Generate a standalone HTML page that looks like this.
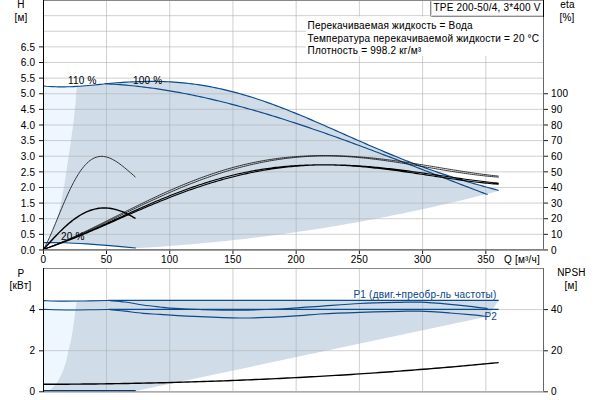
<!DOCTYPE html>
<html><head><meta charset="utf-8"><style>
html,body{margin:0;padding:0;background:#fff;width:600px;height:400px;overflow:hidden}
svg{display:block}
</style></head><body>
<svg width="600" height="400" viewBox="0 0 600 400"><rect width="600" height="400" fill="#fff"/><path d="M43.50,85.95 L46.50,86.24 L49.50,86.46 L52.50,86.64 L55.50,86.76 L58.50,86.83 L61.50,86.86 L64.50,86.85 L67.50,86.79 L70.50,86.70 L73.50,86.57 L76.50,86.41 L76.80,86.30 C76.62,88.58 76.21,94.38 75.70,100.00 C75.19,105.62 74.53,113.33 73.75,120.00 C72.97,126.67 71.83,134.17 71.00,140.00 C70.17,145.83 69.55,150.00 68.80,155.00 C68.05,160.00 67.25,165.00 66.50,170.00 C65.75,175.00 64.98,180.83 64.30,185.00 C63.62,189.17 63.03,191.67 62.40,195.00 C61.77,198.33 61.23,201.67 60.50,205.00 C59.77,208.33 58.92,211.67 58.00,215.00 C57.08,218.33 56.13,221.67 55.00,225.00 C53.87,228.33 52.32,232.07 51.20,235.00 C50.08,237.93 48.78,241.33 48.30,242.60 L43.5,249.5 Z" fill="#eef6ff"/><path d="M76.80,86.30 L79.50,86.23 L82.50,86.01 L85.50,85.77 L88.50,85.52 L91.50,85.24 L94.50,84.95 L97.50,84.65 L100.50,84.33 L103.50,84.01 L105.00,83.70 L108.00,83.46 L111.00,83.22 L114.00,82.99 L117.00,82.77 L120.00,82.56 L123.00,82.37 L126.00,82.19 L129.00,82.02 L132.00,81.87 L135.00,81.74 L138.00,81.63 L141.00,81.53 L144.00,81.46 L147.00,81.42 L150.00,81.39 L153.00,81.39 L156.00,81.42 L159.00,81.47 L162.00,81.54 L165.00,81.65 L168.00,81.78 L171.00,81.94 L174.00,82.12 L177.00,82.34 L180.00,82.58 L183.00,82.86 L186.00,83.16 L189.00,83.50 L192.00,83.86 L195.00,84.26 L198.00,84.68 L201.00,85.14 L204.00,85.62 L207.00,86.14 L210.00,86.68 L213.00,87.26 L216.00,87.86 L219.00,88.50 L222.00,89.16 L225.00,89.85 L228.00,90.57 L231.00,91.32 L234.00,92.10 L237.00,92.90 L240.00,93.74 L243.00,94.59 L246.00,95.48 L249.00,96.39 L252.00,97.32 L255.00,98.28 L258.00,99.26 L261.00,100.26 L264.00,101.29 L267.00,102.34 L270.00,103.41 L273.00,104.50 L276.00,105.61 L279.00,106.73 L282.00,107.88 L285.00,109.04 L288.00,110.22 L291.00,111.41 L294.00,112.62 L297.00,113.85 L300.00,115.08 L303.00,116.33 L306.00,117.59 L309.00,118.86 L312.00,120.14 L315.00,121.43 L318.00,122.73 L321.00,124.03 L324.00,125.34 L327.00,126.66 L330.00,127.98 L333.00,129.30 L336.00,130.63 L339.00,131.96 L342.00,133.29 L345.00,134.62 L348.00,135.95 L351.00,137.28 L354.00,138.61 L357.00,139.93 L360.00,141.25 L363.00,142.57 L366.00,143.88 L369.00,145.19 L372.00,146.49 L375.00,147.78 L378.00,149.06 L381.00,150.34 L384.00,151.61 L387.00,152.86 L390.00,154.11 L393.00,155.35 L396.00,156.57 L399.00,157.79 L402.00,158.99 L405.00,160.18 L408.00,161.36 L411.00,162.52 L414.00,163.67 L417.00,164.80 L420.00,165.92 L423.00,167.03 L426.00,168.12 L429.00,169.20 L432.00,170.26 L435.00,171.31 L438.00,172.34 L441.00,173.36 L444.00,174.36 L447.00,175.35 L450.00,176.32 L453.00,177.28 L456.00,178.23 L459.00,179.16 L462.00,180.08 L465.00,180.98 L468.00,181.87 L471.00,182.75 L474.00,183.62 L477.00,184.48 L480.00,185.32 L483.00,186.16 L486.00,186.99 L489.00,187.81 L492.00,188.63 L495.00,189.43 L498.00,190.24 L498.70,190.42 L498.70,190.40 L495.80,191.72 L491.80,192.75 L487.80,193.78 L483.80,194.79 L479.80,195.80 L475.80,196.79 L471.80,197.78 L467.80,198.76 L463.80,199.73 L459.80,200.69 L455.80,201.64 L451.80,202.58 L447.80,203.51 L443.80,204.44 L439.80,205.35 L435.80,206.25 L431.80,207.15 L427.80,208.04 L423.80,208.91 L419.80,209.78 L415.80,210.64 L411.80,211.49 L407.80,212.33 L403.80,213.17 L399.80,213.99 L395.80,214.80 L391.80,215.61 L387.80,216.40 L383.80,217.19 L379.80,217.96 L375.80,218.73 L371.80,219.49 L367.80,220.24 L363.80,220.98 L359.80,221.71 L355.80,222.44 L351.80,223.15 L347.80,223.85 L343.80,224.55 L339.80,225.23 L335.80,225.91 L331.80,226.58 L327.80,227.24 L323.80,227.89 L319.80,228.53 L315.80,229.16 L311.80,229.78 L307.80,230.39 L303.80,231.00 L299.80,231.59 L295.80,232.18 L291.80,232.75 L287.80,233.32 L283.80,233.88 L279.80,234.43 L275.80,234.97 L271.80,235.50 L267.80,236.02 L263.80,236.53 L259.80,237.04 L255.80,237.53 L251.80,238.01 L247.80,238.49 L243.80,238.96 L239.80,239.42 L235.80,239.86 L231.80,240.30 L227.80,240.73 L223.80,241.15 L219.80,241.57 L215.80,241.97 L211.80,242.36 L207.80,242.75 L203.80,243.12 L199.80,243.49 L195.80,243.85 L191.80,244.20 L187.80,244.53 L183.80,244.86 L179.80,245.19 L175.80,245.50 L171.80,245.80 L167.80,246.09 L163.80,246.38 L159.80,246.65 L155.80,246.92 L151.80,247.18 L147.80,247.42 L143.80,247.66 L139.80,247.89 L135.80,248.00 C131.50,247.60 117.63,246.25 110.00,245.60 C102.37,244.95 97.50,244.58 90.00,244.10 C82.50,243.62 71.95,242.95 65.00,242.70 C58.05,242.45 51.08,242.62 48.30,242.60 C48.78,241.33 50.08,237.93 51.20,235.00 C52.32,232.07 53.87,228.33 55.00,225.00 C56.13,221.67 57.08,218.33 58.00,215.00 C58.92,211.67 59.77,208.33 60.50,205.00 C61.23,201.67 61.77,198.33 62.40,195.00 C63.03,191.67 63.62,189.17 64.30,185.00 C64.98,180.83 65.75,175.00 66.50,170.00 C67.25,165.00 68.05,160.00 68.80,155.00 C69.55,150.00 70.17,145.83 71.00,140.00 C71.83,134.17 72.97,126.67 73.75,120.00 C74.53,113.33 75.19,105.62 75.70,100.00 C76.21,94.38 76.62,88.58 76.80,86.30 Z" fill="#d0dce8"/><path d="M43.5,300.6 C46.25,300.68 54.47,301.07 60.00,301.10 C65.53,301.13 73.92,300.85 76.70,300.80 C76.48,302.33 75.83,306.80 75.40,310.00 C74.97,313.20 74.56,316.67 74.10,320.00 C73.64,323.33 73.17,326.67 72.65,330.00 C72.13,333.33 71.69,336.67 71.00,340.00 C70.31,343.33 69.27,346.67 68.50,350.00 C67.73,353.33 67.28,356.67 66.40,360.00 C65.52,363.33 64.52,366.67 63.20,370.00 C61.88,373.33 59.75,377.67 58.50,380.00 C57.25,382.33 57.12,382.33 55.70,384.00 C54.28,385.67 51.62,388.75 50.00,390.00 C48.38,391.25 46.67,391.25 46.00,391.50 L43.5,391.5 Z" fill="#eef6ff"/><path d="M76.7,300.8 L498.7,300.4 L487.6,316.6 L135.80,391.07 L46,391.5 C46.67,391.25 48.38,391.25 50.00,390.00 C51.62,388.75 54.28,385.67 55.70,384.00 C57.12,382.33 57.25,382.33 58.50,380.00 C59.75,377.67 61.88,373.33 63.20,370.00 C64.52,366.67 65.52,363.33 66.40,360.00 C67.28,356.67 67.73,353.33 68.50,350.00 C69.27,346.67 70.31,343.33 71.00,340.00 C71.69,336.67 72.13,333.33 72.65,330.00 C73.17,326.67 73.64,323.33 74.10,320.00 C74.56,316.67 74.97,313.20 75.40,310.00 C75.83,306.80 76.48,302.33 76.70,300.80 Z" fill="#d0dce8"/><path d="M106.51,1V249 M106.51,269V391 M169.73,1V249 M169.73,269V391 M232.94,1V249 M232.94,269V391 M296.16,1V249 M296.16,269V391 M359.38,1V249 M359.38,269V391 M422.59,1V249 M422.59,269V391 M485.81,1V249 M485.81,269V391 M44,234.33H543 M44,218.71H543 M44,203.09H543 M44,187.47H543 M44,171.85H543 M44,156.23H543 M44,140.61H543 M44,124.99H543 M44,109.37H543 M44,93.75H543 M44,78.13H543 M44,62.51H543 M44,46.89H543 M44,31.27H543 M44,15.65H543 M44,350.7H543 M44,309.6H543" stroke="#b0b0b0" stroke-opacity="0.6" stroke-width="1" fill="none"/><rect x="306" y="16.5" width="237" height="39.5" fill="#fff"/><path d="M43.50,85.95 L46.50,86.24 L49.50,86.46 L52.50,86.64 L55.50,86.76 L58.50,86.83 L61.50,86.86 L64.50,86.85 L67.50,86.79 L70.50,86.70 L73.50,86.57 L76.50,86.41 L79.50,86.23 L82.50,86.01 L85.50,85.77 L88.50,85.52 L91.50,85.24 L94.50,84.95 L97.50,84.65 L100.50,84.33 L103.50,84.01 L105.00,83.70 L108.00,83.46 L111.00,83.22 L114.00,82.99 L117.00,82.77 L120.00,82.56 L123.00,82.37 L126.00,82.19 L129.00,82.02 L132.00,81.87 L135.00,81.74 L138.00,81.63 L141.00,81.53 L144.00,81.46 L147.00,81.42 L150.00,81.39 L153.00,81.39 L156.00,81.42 L159.00,81.47 L162.00,81.54 L165.00,81.65 L168.00,81.78 L171.00,81.94 L174.00,82.12 L177.00,82.34 L180.00,82.58 L183.00,82.86 L186.00,83.16 L189.00,83.50 L192.00,83.86 L195.00,84.26 L198.00,84.68 L201.00,85.14 L204.00,85.62 L207.00,86.14 L210.00,86.68 L213.00,87.26 L216.00,87.86 L219.00,88.50 L222.00,89.16 L225.00,89.85 L228.00,90.57 L231.00,91.32 L234.00,92.10 L237.00,92.90 L240.00,93.74 L243.00,94.59 L246.00,95.48 L249.00,96.39 L252.00,97.32 L255.00,98.28 L258.00,99.26 L261.00,100.26 L264.00,101.29 L267.00,102.34 L270.00,103.41 L273.00,104.50 L276.00,105.61 L279.00,106.73 L282.00,107.88 L285.00,109.04 L288.00,110.22 L291.00,111.41 L294.00,112.62 L297.00,113.85 L300.00,115.08 L303.00,116.33 L306.00,117.59 L309.00,118.86 L312.00,120.14 L315.00,121.43 L318.00,122.73 L321.00,124.03 L324.00,125.34 L327.00,126.66 L330.00,127.98 L333.00,129.30 L336.00,130.63 L339.00,131.96 L342.00,133.29 L345.00,134.62 L348.00,135.95 L351.00,137.28 L354.00,138.61 L357.00,139.93 L360.00,141.25 L363.00,142.57 L366.00,143.88 L369.00,145.19 L372.00,146.49 L375.00,147.78 L378.00,149.06 L381.00,150.34 L384.00,151.61 L387.00,152.86 L390.00,154.11 L393.00,155.35 L396.00,156.57 L399.00,157.79 L402.00,158.99 L405.00,160.18 L408.00,161.36 L411.00,162.52 L414.00,163.67 L417.00,164.80 L420.00,165.92 L423.00,167.03 L426.00,168.12 L429.00,169.20 L432.00,170.26 L435.00,171.31 L438.00,172.34 L441.00,173.36 L444.00,174.36 L447.00,175.35 L450.00,176.32 L453.00,177.28 L456.00,178.23 L459.00,179.16 L462.00,180.08 L465.00,180.98 L468.00,181.87 L471.00,182.75 L474.00,183.62 L477.00,184.48 L480.00,185.32 L483.00,186.16 L486.00,186.99 L489.00,187.81 L492.00,188.63 L495.00,189.43 L498.00,190.24 L498.70,190.42" stroke="#0d4a8a" stroke-width="1.15" fill="none"/><path d="M105.00,83.74 L108.00,83.89 L111.00,84.06 L114.00,84.24 L117.00,84.45 L120.00,84.67 L123.00,84.91 L126.00,85.17 L129.00,85.45 L132.00,85.74 L135.00,86.05 L138.00,86.38 L141.00,86.72 L144.00,87.08 L147.00,87.46 L150.00,87.86 L153.00,88.27 L156.00,88.69 L159.00,89.14 L162.00,89.60 L165.00,90.07 L168.00,90.56 L171.00,91.06 L174.00,91.58 L177.00,92.12 L180.00,92.66 L183.00,93.23 L186.00,93.81 L189.00,94.40 L192.00,95.00 L195.00,95.62 L198.00,96.25 L201.00,96.90 L204.00,97.56 L207.00,98.23 L210.00,98.92 L213.00,99.62 L216.00,100.33 L219.00,101.05 L222.00,101.79 L225.00,102.53 L228.00,103.29 L231.00,104.07 L234.00,104.85 L237.00,105.64 L240.00,106.45 L243.00,107.26 L246.00,108.09 L249.00,108.93 L252.00,109.78 L255.00,110.64 L258.00,111.50 L261.00,112.38 L264.00,113.27 L267.00,114.17 L270.00,115.08 L273.00,115.99 L276.00,116.92 L279.00,117.85 L282.00,118.80 L285.00,119.75 L288.00,120.71 L291.00,121.68 L294.00,122.65 L297.00,123.64 L300.00,124.63 L303.00,125.63 L306.00,126.64 L309.00,127.65 L312.00,128.67 L315.00,129.70 L318.00,130.74 L321.00,131.78 L324.00,132.83 L327.00,133.88 L330.00,134.94 L333.00,136.01 L336.00,137.08 L339.00,138.15 L342.00,139.24 L345.00,140.32 L348.00,141.41 L351.00,142.51 L354.00,143.61 L357.00,144.72 L360.00,145.83 L363.00,146.94 L366.00,148.06 L369.00,149.18 L372.00,150.31 L375.00,151.43 L378.00,152.57 L381.00,153.70 L384.00,154.84 L387.00,155.98 L390.00,157.12 L393.00,158.27 L396.00,159.41 L399.00,160.56 L402.00,161.71 L405.00,162.87 L408.00,164.02 L411.00,165.18 L414.00,166.33 L417.00,167.49 L420.00,168.65 L423.00,169.81 L426.00,170.97 L429.00,172.13 L432.00,173.28 L435.00,174.44 L438.00,175.60 L441.00,176.76 L444.00,177.92 L447.00,179.08 L450.00,180.23 L453.00,181.39 L456.00,182.54 L459.00,183.69 L462.00,184.84 L465.00,185.99 L468.00,187.14 L471.00,188.28 L474.00,189.43 L477.00,190.57 L480.00,191.70 L483.00,192.84 L486.00,193.97 L487.60,194.57" stroke="#0d4a8a" stroke-width="1.15" fill="none"/><path d="M43.50,242.60 C47.08,242.62 57.25,242.45 65.00,242.70 C72.75,242.95 82.50,243.62 90.00,244.10 C97.50,244.58 102.37,244.95 110.00,245.60 C117.63,246.25 131.50,247.60 135.80,248.00" stroke="#0d4a8a" stroke-width="1.15" fill="none"/><path d="M43.50,249.50 L45.00,246.77 L46.50,243.83 L48.00,240.71 L49.50,237.43 L51.00,234.03 L52.50,230.52 L54.00,226.95 L55.50,223.32 L57.00,219.66 L58.50,216.00 L60.00,212.35 L61.50,208.73 L63.00,205.15 L64.50,201.64 L66.00,198.20 L67.50,194.84 L69.00,191.59 L70.50,188.45 L72.00,185.43 L73.50,182.53 L75.00,179.77 L76.50,177.16 L78.00,174.69 L79.50,172.37 L81.00,170.20 L82.50,168.19 L84.00,166.35 L85.50,164.66 L87.00,163.13 L88.50,161.77 L90.00,160.56 L91.50,159.52 L93.00,158.63 L94.50,157.89 L96.00,157.30 L97.50,156.86 L99.00,156.56 L100.50,156.39 L102.00,156.36 L103.50,156.46 L105.00,156.68 L106.50,157.01 L108.00,157.45 L109.50,158.00 L111.00,158.64 L112.50,159.37 L114.00,160.18 L115.50,161.07 L117.00,162.03 L118.50,163.06 L120.00,164.14 L121.50,165.27 L123.00,166.44 L124.50,167.65 L126.00,168.89 L127.50,170.16 L129.00,171.44 L130.50,172.74 L132.00,174.05 L133.50,175.37 L135.00,176.68 L135.50,177.12" stroke="#222" stroke-width="0.9" fill="none"/><path d="M43.50,249.52 L45.00,247.81 L46.50,246.11 L48.00,244.42 L49.50,242.75 L51.00,241.09 L52.50,239.45 L54.00,237.83 L55.50,236.24 L57.00,234.67 L58.50,233.13 L60.00,231.62 L61.50,230.15 L63.00,228.70 L64.50,227.30 L66.00,225.94 L67.50,224.61 L69.00,223.33 L70.50,222.09 L72.00,220.90 L73.50,219.75 L75.00,218.65 L76.50,217.60 L78.00,216.60 L79.50,215.65 L81.00,214.76 L82.50,213.92 L84.00,213.13 L85.50,212.39 L87.00,211.71 L88.50,211.09 L90.00,210.52 L91.50,210.01 L93.00,209.56 L94.50,209.16 L96.00,208.82 L97.50,208.54 L99.00,208.31 L100.50,208.14 L102.00,208.03 L103.50,207.97 L105.00,207.97 L106.50,208.03 L108.00,208.14 L109.50,208.30 L111.00,208.51 L112.50,208.78 L114.00,209.10 L115.50,209.47 L117.00,209.89 L118.50,210.35 L120.00,210.87 L121.50,211.42 L123.00,212.02 L124.50,212.67 L126.00,213.35 L127.50,214.07 L129.00,214.83 L130.50,215.62 L132.00,216.44 L133.50,217.30 L135.00,218.18 L135.50,218.48" stroke="#000" stroke-width="1.4" fill="none"/><path d="M43.50,249.31 L45.50,248.59 L47.50,247.85 L49.50,247.09 L51.50,246.32 L53.50,245.53 L55.50,244.73 L57.50,243.92 L59.50,243.09 L61.50,242.25 L63.50,241.40 L65.50,240.53 L67.50,239.66 L69.50,238.77 L71.50,237.87 L73.50,236.97 L75.50,236.05 L77.50,235.13 L79.50,234.20 L81.50,233.26 L83.50,232.31 L85.50,231.36 L87.50,230.40 L89.50,229.43 L91.50,228.46 L93.50,227.49 L95.50,226.51 L97.50,225.53 L99.50,224.54 L101.50,223.55 L103.50,222.56 L105.50,221.56 L107.50,220.56 L109.50,219.56 L111.50,218.56 L113.50,217.56 L115.50,216.56 L117.50,215.56 L119.50,214.56 L121.50,213.56 L123.50,212.56 L125.50,211.56 L127.50,210.57 L129.50,209.57 L131.50,208.58 L133.50,207.59 L135.50,206.61 L137.50,205.63 L139.50,204.65 L141.50,203.67 L143.50,202.70 L145.50,201.74 L147.50,200.78 L149.50,199.82 L151.50,198.87 L153.50,197.93 L155.50,196.99 L157.50,196.06 L159.50,195.13 L161.50,194.21 L163.50,193.30 L165.50,192.40 L167.50,191.50 L169.50,190.61 L171.50,189.73 L173.50,188.86 L175.50,187.99 L177.50,187.13 L179.50,186.29 L181.50,185.45 L183.50,184.62 L185.50,183.80 L187.50,182.99 L189.50,182.19 L191.50,181.40 L193.50,180.62 L195.50,179.85 L197.50,179.09 L199.50,178.34 L201.50,177.60 L203.50,176.87 L205.50,176.16 L207.50,175.45 L209.50,174.76 L211.50,174.07 L213.50,173.40 L215.50,172.74 L217.50,172.09 L219.50,171.46 L221.50,170.83 L223.50,170.22 L225.50,169.62 L227.50,169.03 L229.50,168.46 L231.50,167.90 L233.50,167.34 L235.50,166.81 L237.50,166.28 L239.50,165.77 L241.50,165.27 L243.50,164.78 L245.50,164.30 L247.50,163.84 L249.50,163.39 L251.50,162.96 L253.50,162.53 L255.50,162.12 L257.50,161.73 L259.50,161.34 L261.50,160.97 L263.50,160.61 L265.50,160.27 L267.50,159.93 L269.50,159.61 L271.50,159.31 L273.50,159.01 L275.50,158.73 L277.50,158.47 L279.50,158.21 L281.50,157.97 L283.50,157.74 L285.50,157.52 L287.50,157.32 L289.50,157.13 L291.50,156.95 L293.50,156.78 L295.50,156.63 L297.50,156.49 L299.50,156.36 L301.50,156.24 L303.50,156.14 L305.50,156.05 L307.50,155.97 L309.50,155.90 L311.50,155.85 L313.50,155.80 L315.50,155.77 L317.50,155.74 L319.50,155.73 L321.50,155.73 L323.50,155.74 L325.50,155.76 L327.50,155.79 L329.50,155.83 L331.50,155.88 L333.50,155.94 L335.50,156.02 L337.50,156.10 L339.50,156.19 L341.50,156.29 L343.50,156.40 L345.50,156.52 L347.50,156.64 L349.50,156.78 L351.50,156.92 L353.50,157.08 L355.50,157.24 L357.50,157.41 L359.50,157.59 L361.50,157.78 L363.50,157.98 L365.50,158.18 L367.50,158.40 L369.50,158.62 L371.50,158.85 L373.50,159.09 L375.50,159.33 L377.50,159.58 L379.50,159.84 L381.50,160.10 L383.50,160.37 L385.50,160.64 L387.50,160.92 L389.50,161.21 L391.50,161.50 L393.50,161.79 L395.50,162.09 L397.50,162.40 L399.50,162.71 L401.50,163.02 L403.50,163.34 L405.50,163.66 L407.50,163.98 L409.50,164.31 L411.50,164.63 L413.50,164.96 L415.50,165.30 L417.50,165.63 L419.50,165.97 L421.50,166.31 L423.50,166.65 L425.50,166.98 L427.50,167.32 L429.50,167.66 L431.50,168.00 L433.50,168.34 L435.50,168.68 L437.50,169.02 L439.50,169.36 L441.50,169.69 L443.50,170.02 L445.50,170.35 L447.50,170.68 L449.50,171.01 L451.50,171.33 L453.50,171.64 L455.50,171.96 L457.50,172.27 L459.50,172.57 L461.50,172.87 L463.50,173.17 L465.50,173.46 L467.50,173.74 L469.50,174.02 L471.50,174.29 L473.50,174.56 L475.50,174.81 L477.50,175.06 L479.50,175.30 L481.50,175.53 L483.50,175.76 L485.50,175.97 L487.50,176.18 L489.50,176.38 L491.50,176.56 L493.50,176.74 L495.50,176.90 L497.50,177.05 L498.70,177.14 M43.50,249.31 L45.50,248.61 L47.50,247.90 L49.50,247.17 L51.50,246.43 L53.50,245.67 L55.50,244.90 L57.50,244.11 L59.50,243.32 L61.50,242.51 L63.50,241.69 L65.50,240.86 L67.50,240.02 L69.50,239.17 L71.50,238.31 L73.50,237.44 L75.50,236.56 L77.50,235.67 L79.50,234.77 L81.50,233.87 L83.50,232.96 L85.50,232.05 L87.50,231.13 L89.50,230.20 L91.50,229.27 L93.50,228.33 L95.50,227.39 L97.50,226.44 L99.50,225.49 L101.50,224.54 L103.50,223.58 L105.50,222.62 L107.50,221.66 L109.50,220.70 L111.50,219.73 L113.50,218.77 L115.50,217.80 L117.50,216.84 L119.50,215.87 L121.50,214.90 L123.50,213.94 L125.50,212.97 L127.50,212.01 L129.50,211.04 L131.50,210.08 L133.50,209.13 L135.50,208.17 L137.50,207.22 L139.50,206.27 L141.50,205.32 L143.50,204.37 L145.50,203.43 L147.50,202.50 L149.50,201.57 L151.50,200.64 L153.50,199.72 L155.50,198.80 L157.50,197.89 L159.50,196.98 L161.50,196.08 L163.50,195.19 L165.50,194.30 L167.50,193.42 L169.50,192.55 L171.50,191.68 L173.50,190.82 L175.50,189.97 L177.50,189.12 L179.50,188.28 L181.50,187.45 L183.50,186.63 L185.50,185.82 L187.50,185.01 L189.50,184.22 L191.50,183.43 L193.50,182.65 L195.50,181.88 L197.50,181.12 L199.50,180.37 L201.50,179.63 L203.50,178.90 L205.50,178.18 L207.50,177.47 L209.50,176.77 L211.50,176.08 L213.50,175.40 L215.50,174.73 L217.50,174.07 L219.50,173.42 L221.50,172.78 L223.50,172.16 L225.50,171.54 L227.50,170.94 L229.50,170.34 L231.50,169.76 L233.50,169.19 L235.50,168.63 L237.50,168.08 L239.50,167.55 L241.50,167.02 L243.50,166.51 L245.50,166.01 L247.50,165.52 L249.50,165.04 L251.50,164.58 L253.50,164.12 L255.50,163.68 L257.50,163.25 L259.50,162.84 L261.50,162.43 L263.50,162.04 L265.50,161.66 L267.50,161.29 L269.50,160.93 L271.50,160.58 L273.50,160.25 L275.50,159.93 L277.50,159.62 L279.50,159.33 L281.50,159.04 L283.50,158.77 L285.50,158.51 L287.50,158.26 L289.50,158.02 L291.50,157.80 L293.50,157.59 L295.50,157.39 L297.50,157.20 L299.50,157.02 L301.50,156.85 L303.50,156.69 L305.50,156.55 L307.50,156.42 L309.50,156.30 L311.50,156.19 L313.50,156.09 L315.50,156.01 L317.50,155.93 L319.50,155.87 L321.50,155.82 L323.50,155.78 L325.50,155.75 L327.50,155.74 L329.50,155.73 L331.50,155.74 L333.50,155.75 L335.50,155.78 L337.50,155.82 L339.50,155.87 L341.50,155.92 L343.50,155.99 L345.50,156.07 L347.50,156.16 L349.50,156.26 L351.50,156.37 L353.50,156.49 L355.50,156.62 L357.50,156.75 L359.50,156.90 L361.50,157.05 L363.50,157.21 L365.50,157.38 L367.50,157.56 L369.50,157.74 L371.50,157.93 L373.50,158.13 L375.50,158.34 L377.50,158.56 L379.50,158.78 L381.50,159.01 L383.50,159.24 L385.50,159.48 L387.50,159.73 L389.50,159.98 L391.50,160.24 L393.50,160.51 L395.50,160.78 L397.50,161.05 L399.50,161.33 L401.50,161.62 L403.50,161.91 L405.50,162.20 L407.50,162.50 L409.50,162.80 L411.50,163.11 L413.50,163.42 L415.50,163.73 L417.50,164.04 L419.50,164.36 L421.50,164.68 L423.50,165.01 L425.50,165.33 L427.50,165.66 L429.50,165.98 L431.50,166.31 L433.50,166.64 L435.50,166.97 L437.50,167.31 L439.50,167.64 L441.50,167.97 L443.50,168.30 L445.50,168.63 L447.50,168.96 L449.50,169.29 L451.50,169.61 L453.50,169.94 L455.50,170.26 L457.50,170.58 L459.50,170.90 L461.50,171.21 L463.50,171.52 L465.50,171.83 L467.50,172.13 L469.50,172.43 L471.50,172.73 L473.50,173.02 L475.50,173.30 L477.50,173.58 L479.50,173.86 L481.50,174.12 L483.50,174.39 L485.50,174.64 L487.50,174.89 L489.50,175.13 L491.50,175.36 L493.50,175.59 L495.50,175.80 L497.50,176.01 L498.70,176.13" stroke="#111" stroke-width="0.85" fill="none"/><path d="M43.50,249.29 L45.50,248.63 L47.50,247.96 L49.50,247.27 L51.50,246.56 L53.50,245.84 L55.50,245.11 L57.50,244.36 L59.50,243.61 L61.50,242.84 L63.50,242.06 L65.50,241.26 L67.50,240.46 L69.50,239.65 L71.50,238.83 L73.50,238.00 L75.50,237.17 L77.50,236.32 L79.50,235.47 L81.50,234.61 L83.50,233.75 L85.50,232.88 L87.50,232.00 L89.50,231.12 L91.50,230.23 L93.50,229.34 L95.50,228.45 L97.50,227.55 L99.50,226.65 L101.50,225.74 L103.50,224.84 L105.50,223.93 L107.50,223.02 L109.50,222.11 L111.50,221.20 L113.50,220.29 L115.50,219.37 L117.50,218.46 L119.50,217.55 L121.50,216.64 L123.50,215.73 L125.50,214.82 L127.50,213.92 L129.50,213.02 L131.50,212.12 L133.50,211.22 L135.50,210.32 L137.50,209.43 L139.50,208.54 L141.50,207.66 L143.50,206.78 L145.50,205.91 L147.50,205.04 L149.50,204.17 L151.50,203.31 L153.50,202.46 L155.50,201.61 L157.50,200.77 L159.50,199.93 L161.50,199.10 L163.50,198.28 L165.50,197.46 L167.50,196.65 L169.50,195.85 L171.50,195.06 L173.50,194.27 L175.50,193.49 L177.50,192.72 L179.50,191.96 L181.50,191.20 L183.50,190.46 L185.50,189.72 L187.50,188.99 L189.50,188.28 L191.50,187.57 L193.50,186.87 L195.50,186.18 L197.50,185.50 L199.50,184.82 L201.50,184.16 L203.50,183.51 L205.50,182.87 L207.50,182.24 L209.50,181.62 L211.50,181.01 L213.50,180.41 L215.50,179.82 L217.50,179.25 L219.50,178.68 L221.50,178.12 L223.50,177.58 L225.50,177.04 L227.50,176.52 L229.50,176.01 L231.50,175.51 L233.50,175.02 L235.50,174.54 L237.50,174.08 L239.50,173.62 L241.50,173.18 L243.50,172.75 L245.50,172.33 L247.50,171.92 L249.50,171.52 L251.50,171.14 L253.50,170.76 L255.50,170.40 L257.50,170.05 L259.50,169.71 L261.50,169.39 L263.50,169.07 L265.50,168.77 L267.50,168.48 L269.50,168.20 L271.50,167.93 L273.50,167.67 L275.50,167.42 L277.50,167.19 L279.50,166.97 L281.50,166.76 L283.50,166.56 L285.50,166.37 L287.50,166.19 L289.50,166.03 L291.50,165.87 L293.50,165.73 L295.50,165.60 L297.50,165.48 L299.50,165.36 L301.50,165.27 L303.50,165.18 L305.50,165.10 L307.50,165.04 L309.50,164.98 L311.50,164.93 L313.50,164.90 L315.50,164.87 L317.50,164.85 L319.50,164.84 L321.50,164.85 L323.50,164.86 L325.50,164.88 L327.50,164.91 L329.50,164.95 L331.50,165.00 L333.50,165.05 L335.50,165.12 L337.50,165.19 L339.50,165.28 L341.50,165.37 L343.50,165.47 L345.50,165.57 L347.50,165.69 L349.50,165.81 L351.50,165.94 L353.50,166.08 L355.50,166.22 L357.50,166.37 L359.50,166.53 L361.50,166.70 L363.50,166.88 L365.50,167.06 L367.50,167.25 L369.50,167.45 L371.50,167.66 L373.50,167.87 L375.50,168.08 L377.50,168.30 L379.50,168.53 L381.50,168.76 L383.50,169.00 L385.50,169.24 L387.50,169.49 L389.50,169.74 L391.50,170.00 L393.50,170.26 L395.50,170.53 L397.50,170.80 L399.50,171.07 L401.50,171.35 L403.50,171.63 L405.50,171.91 L407.50,172.20 L409.50,172.49 L411.50,172.78 L413.50,173.07 L415.50,173.37 L417.50,173.66 L419.50,173.96 L421.50,174.26 L423.50,174.56 L425.50,174.86 L427.50,175.17 L429.50,175.47 L431.50,175.77 L433.50,176.07 L435.50,176.38 L437.50,176.68 L439.50,176.98 L441.50,177.28 L443.50,177.58 L445.50,177.87 L447.50,178.17 L449.50,178.46 L451.50,178.75 L453.50,179.04 L455.50,179.33 L457.50,179.61 L459.50,179.89 L461.50,180.16 L463.50,180.44 L465.50,180.70 L467.50,180.97 L469.50,181.22 L471.50,181.48 L473.50,181.73 L475.50,181.97 L477.50,182.21 L479.50,182.44 L481.50,182.66 L483.50,182.88 L485.50,183.09 L487.50,183.30 L489.50,183.49 L491.50,183.68 L493.50,183.86 L495.50,184.04 L497.50,184.20 L498.70,184.30 M43.50,249.29 L45.50,248.66 L47.50,248.00 L49.50,247.34 L51.50,246.66 L53.50,245.97 L55.50,245.26 L57.50,244.54 L59.50,243.81 L61.50,243.08 L63.50,242.33 L65.50,241.57 L67.50,240.80 L69.50,240.02 L71.50,239.23 L73.50,238.43 L75.50,237.63 L77.50,236.82 L79.50,236.00 L81.50,235.17 L83.50,234.34 L85.50,233.51 L87.50,232.66 L89.50,231.82 L91.50,230.96 L93.50,230.11 L95.50,229.25 L97.50,228.38 L99.50,227.51 L101.50,226.64 L103.50,225.77 L105.50,224.90 L107.50,224.02 L109.50,223.14 L111.50,222.26 L113.50,221.38 L115.50,220.50 L117.50,219.62 L119.50,218.74 L121.50,217.86 L123.50,216.98 L125.50,216.10 L127.50,215.23 L129.50,214.35 L131.50,213.48 L133.50,212.61 L135.50,211.74 L137.50,210.87 L139.50,210.01 L141.50,209.15 L143.50,208.30 L145.50,207.44 L147.50,206.60 L149.50,205.75 L151.50,204.91 L153.50,204.08 L155.50,203.25 L157.50,202.42 L159.50,201.61 L161.50,200.79 L163.50,199.98 L165.50,199.18 L167.50,198.39 L169.50,197.60 L171.50,196.81 L173.50,196.04 L175.50,195.27 L177.50,194.51 L179.50,193.75 L181.50,193.01 L183.50,192.27 L185.50,191.54 L187.50,190.81 L189.50,190.10 L191.50,189.39 L193.50,188.69 L195.50,188.00 L197.50,187.32 L199.50,186.65 L201.50,185.98 L203.50,185.33 L205.50,184.68 L207.50,184.05 L209.50,183.42 L211.50,182.80 L213.50,182.19 L215.50,181.60 L217.50,181.01 L219.50,180.43 L221.50,179.86 L223.50,179.30 L225.50,178.75 L227.50,178.21 L229.50,177.69 L231.50,177.17 L233.50,176.66 L235.50,176.16 L237.50,175.68 L239.50,175.20 L241.50,174.74 L243.50,174.28 L245.50,173.84 L247.50,173.40 L249.50,172.98 L251.50,172.57 L253.50,172.17 L255.50,171.78 L257.50,171.40 L259.50,171.03 L261.50,170.67 L263.50,170.33 L265.50,169.99 L267.50,169.66 L269.50,169.35 L271.50,169.05 L273.50,168.75 L275.50,168.47 L277.50,168.20 L279.50,167.94 L281.50,167.69 L283.50,167.46 L285.50,167.23 L287.50,167.01 L289.50,166.80 L291.50,166.61 L293.50,166.42 L295.50,166.25 L297.50,166.09 L299.50,165.93 L301.50,165.79 L303.50,165.65 L305.50,165.53 L307.50,165.41 L309.50,165.31 L311.50,165.22 L313.50,165.14 L315.50,165.06 L317.50,165.00 L319.50,164.95 L321.50,164.91 L323.50,164.88 L325.50,164.86 L327.50,164.85 L329.50,164.84 L331.50,164.85 L333.50,164.87 L335.50,164.90 L337.50,164.93 L339.50,164.98 L341.50,165.03 L343.50,165.10 L345.50,165.17 L347.50,165.25 L349.50,165.34 L351.50,165.44 L353.50,165.55 L355.50,165.66 L357.50,165.79 L359.50,165.92 L361.50,166.06 L363.50,166.20 L365.50,166.35 L367.50,166.51 L369.50,166.67 L371.50,166.84 L373.50,167.02 L375.50,167.20 L377.50,167.39 L379.50,167.59 L381.50,167.79 L383.50,168.00 L385.50,168.22 L387.50,168.43 L389.50,168.66 L391.50,168.89 L393.50,169.12 L395.50,169.36 L397.50,169.61 L399.50,169.85 L401.50,170.11 L403.50,170.36 L405.50,170.62 L407.50,170.89 L409.50,171.16 L411.50,171.43 L413.50,171.70 L415.50,171.98 L417.50,172.26 L419.50,172.54 L421.50,172.82 L423.50,173.11 L425.50,173.39 L427.50,173.68 L429.50,173.97 L431.50,174.27 L433.50,174.56 L435.50,174.85 L437.50,175.15 L439.50,175.44 L441.50,175.74 L443.50,176.03 L445.50,176.33 L447.50,176.62 L449.50,176.92 L451.50,177.21 L453.50,177.50 L455.50,177.79 L457.50,178.08 L459.50,178.36 L461.50,178.65 L463.50,178.93 L465.50,179.21 L467.50,179.49 L469.50,179.76 L471.50,180.03 L473.50,180.30 L475.50,180.56 L477.50,180.82 L479.50,181.07 L481.50,181.32 L483.50,181.57 L485.50,181.81 L487.50,182.04 L489.50,182.27 L491.50,182.49 L493.50,182.71 L495.50,182.92 L497.50,183.13 L498.70,183.25" stroke="#000" stroke-width="1.1" fill="none"/><path d="M43.50,300.60 C46.25,300.68 53.92,301.03 60.00,301.10 C66.08,301.17 72.17,301.10 80.00,301.00 C87.83,300.90 95.33,300.60 107.00,300.50 C118.67,300.40 84.72,300.42 150.00,300.40 C215.28,300.38 440.58,300.40 498.70,300.40" stroke="#0d4a8a" stroke-width="1.15" fill="none"/><path d="M43.50,309.40 C47.92,309.50 59.42,309.98 70.00,310.00 C80.58,310.02 93.67,309.60 107.00,309.50 C120.33,309.40 84.72,309.42 150.00,309.40 C215.28,309.38 440.58,309.40 498.70,309.40" stroke="#0d4a8a" stroke-width="1.15" fill="none"/><path d="M110.00,300.60 C112.50,300.83 119.50,301.27 125.00,302.00 C130.50,302.73 137.17,304.17 143.00,305.00 C148.83,305.83 154.67,306.43 160.00,307.00 C165.33,307.57 168.33,307.98 175.00,308.40 C181.67,308.82 189.17,309.20 200.00,309.50 C210.83,309.80 226.67,310.28 240.00,310.20 C253.33,310.12 270.00,309.43 280.00,309.00 C290.00,308.57 293.33,308.05 300.00,307.60 C306.67,307.15 310.00,306.98 320.00,306.30 C330.00,305.62 346.67,304.17 360.00,303.50 C373.33,302.83 390.00,302.52 400.00,302.30 C410.00,302.08 411.67,301.87 420.00,302.20 C428.33,302.53 441.67,303.60 450.00,304.30 C458.33,305.00 463.73,305.67 470.00,306.40 C476.27,307.13 484.67,308.32 487.60,308.70" stroke="#0d4a8a" stroke-width="1.2" fill="none"/><path d="M110.00,309.60 C112.50,309.87 119.50,310.58 125.00,311.20 C130.50,311.82 137.17,312.77 143.00,313.30 C148.83,313.83 150.50,313.83 160.00,314.40 C169.50,314.97 186.67,316.10 200.00,316.70 C213.33,317.30 228.33,317.90 240.00,318.00 C251.67,318.10 260.00,317.68 270.00,317.30 C280.00,316.92 291.67,316.25 300.00,315.70 C308.33,315.15 310.00,314.57 320.00,314.00 C330.00,313.43 346.67,312.75 360.00,312.30 C373.33,311.85 390.00,311.48 400.00,311.30 C410.00,311.12 411.67,310.92 420.00,311.20 C428.33,311.48 441.67,312.42 450.00,313.00 C458.33,313.58 463.73,314.10 470.00,314.70 C476.27,315.30 484.67,316.28 487.60,316.60" stroke="#0d4a8a" stroke-width="1.2" fill="none"/><path d="M43.5,390.8 L135.7,390.8" stroke="#0a3a70" stroke-width="1.5" fill="none"/><path d="M43.50,384.28 L47.50,384.27 L51.50,384.26 L55.50,384.24 L59.50,384.22 L63.50,384.20 L67.50,384.18 L71.50,384.15 L75.50,384.12 L79.50,384.09 L83.50,384.05 L87.50,384.01 L91.50,383.97 L95.50,383.93 L99.50,383.88 L103.50,383.83 L107.50,383.77 L111.50,383.72 L115.50,383.66 L119.50,383.59 L123.50,383.53 L127.50,383.46 L131.50,383.39 L135.50,383.31 L139.50,383.23 L143.50,383.15 L147.50,383.06 L151.50,382.98 L155.50,382.89 L159.50,382.79 L163.50,382.69 L167.50,382.59 L171.50,382.49 L175.50,382.38 L179.50,382.27 L183.50,382.16 L187.50,382.04 L191.50,381.92 L195.50,381.80 L199.50,381.67 L203.50,381.54 L207.50,381.41 L211.50,381.28 L215.50,381.14 L219.50,380.99 L223.50,380.85 L227.50,380.70 L231.50,380.55 L235.50,380.39 L239.50,380.23 L243.50,380.07 L247.50,379.91 L251.50,379.74 L255.50,379.57 L259.50,379.39 L263.50,379.21 L267.50,379.03 L271.50,378.85 L275.50,378.66 L279.50,378.46 L283.50,378.27 L287.50,378.07 L291.50,377.87 L295.50,377.66 L299.50,377.45 L303.50,377.24 L307.50,377.03 L311.50,376.81 L315.50,376.58 L319.50,376.36 L323.50,376.13 L327.50,375.90 L331.50,375.66 L335.50,375.42 L339.50,375.18 L343.50,374.93 L347.50,374.68 L351.50,374.43 L355.50,374.17 L359.50,373.91 L363.50,373.64 L367.50,373.38 L371.50,373.10 L375.50,372.83 L379.50,372.55 L383.50,372.27 L387.50,371.98 L391.50,371.70 L395.50,371.40 L399.50,371.11 L403.50,370.81 L407.50,370.50 L411.50,370.20 L415.50,369.89 L419.50,369.57 L423.50,369.25 L427.50,368.93 L431.50,368.61 L435.50,368.28 L439.50,367.95 L443.50,367.61 L447.50,367.27 L451.50,366.93 L455.50,366.58 L459.50,366.23 L463.50,365.87 L467.50,365.52 L471.50,365.15 L475.50,364.79 L479.50,364.42 L483.50,364.05 L487.50,363.67 L491.50,363.29 L495.50,362.90 L498.70,362.59" stroke="#000" stroke-width="1.4" fill="none"/><path d="M43,0.5H543.5" stroke="#888" stroke-width="1" fill="none"/><path d="M543.5,0V250" stroke="#666" stroke-width="1" fill="none"/><path d="M43,249.9H544" stroke="#808080" stroke-width="1.6" fill="none"/><path d="M43.5,0V250.5" stroke="#000" stroke-width="1" fill="none"/><path d="M43,268.5H543.5" stroke="#888" stroke-width="1" fill="none"/><path d="M543.5,268V392" stroke="#666" stroke-width="1" fill="none"/><path d="M43,391.8H544" stroke="#909090" stroke-width="1.2" fill="none"/><path d="M43.5,268V392" stroke="#000" stroke-width="1" fill="none"/><path d="M39,249.95H43 M544,249.95H548 M39,234.33H43 M544,234.33H548 M39,218.71H43 M544,218.71H548 M39,203.09H43 M544,203.09H548 M39,187.47H43 M544,187.47H548 M39,171.85H43 M544,171.85H548 M39,156.23H43 M544,156.23H548 M39,140.61H43 M544,140.61H548 M39,124.99H43 M544,124.99H548 M39,109.37H43 M544,109.37H548 M39,93.75H43 M544,93.75H548 M39,78.13H43 M39,62.51H43 M39,46.89H43 M43.5,250.5V254 M106.51,250.5V254 M169.73,250.5V254 M232.94,250.5V254 M296.16,250.5V254 M359.38,250.5V254 M422.59,250.5V254 M485.81,250.5V254 M39,391.8H43 M544,391.8H548 M39,350.8H43 M544,350.8H548 M39,309.6H43 M544,309.6H548" stroke="#1a1a1a" stroke-width="1" fill="none"/><rect x="430.5" y="0.5" width="113" height="16" rx="1" fill="#fff" stroke="#8c8c8c" stroke-width="1"/><path d="M431.5,1V15.5H543" stroke="#d4d4d4" stroke-width="1" fill="none"/><path d="M543.5,0V17" stroke="#000" stroke-width="1"/><g font-family="Liberation Sans, Arial, sans-serif" letter-spacing="0.2" style="paint-order:stroke" stroke-width="0.06"><text x="433.5" y="11" font-size="10" fill="#000" stroke="#000" text-anchor="start" >TPE 200-50/4, 3*400 V</text><text x="307.5" y="29" font-size="10" fill="#000" stroke="#000" text-anchor="start" >Перекачиваемая жидкость = Вода</text><text x="307.5" y="41.5" font-size="10" fill="#000" stroke="#000" text-anchor="start" >Температура перекачиваемой жидкости = 20 °C</text><text x="307.5" y="54" font-size="10" fill="#000" stroke="#000" text-anchor="start" >Плотность = 998.2 кг/м³</text><text x="21" y="8.4" font-size="10" fill="#000" stroke="#000" text-anchor="middle" >H</text><text x="21" y="20.5" font-size="10" fill="#000" stroke="#000" text-anchor="middle" >[м]</text><text x="567.5" y="8" font-size="10" fill="#000" stroke="#000" text-anchor="middle" >eta</text><text x="567" y="20.5" font-size="10" fill="#000" stroke="#000" text-anchor="middle" >[%]</text><text x="35.3" y="253.64999999999998" font-size="10" fill="#000" stroke="#000" text-anchor="end" >0.0</text><text x="35.3" y="238.02999999999997" font-size="10" fill="#000" stroke="#000" text-anchor="end" >0.5</text><text x="35.3" y="222.40999999999997" font-size="10" fill="#000" stroke="#000" text-anchor="end" >1.0</text><text x="35.3" y="206.78999999999996" font-size="10" fill="#000" stroke="#000" text-anchor="end" >1.5</text><text x="35.3" y="191.17" font-size="10" fill="#000" stroke="#000" text-anchor="end" >2.0</text><text x="35.3" y="175.54999999999998" font-size="10" fill="#000" stroke="#000" text-anchor="end" >2.5</text><text x="35.3" y="159.92999999999998" font-size="10" fill="#000" stroke="#000" text-anchor="end" >3.0</text><text x="35.3" y="144.31" font-size="10" fill="#000" stroke="#000" text-anchor="end" >3.5</text><text x="35.3" y="128.69" font-size="10" fill="#000" stroke="#000" text-anchor="end" >4.0</text><text x="35.3" y="113.07000000000001" font-size="10" fill="#000" stroke="#000" text-anchor="end" >4.5</text><text x="35.3" y="97.45" font-size="10" fill="#000" stroke="#000" text-anchor="end" >5.0</text><text x="35.3" y="81.83" font-size="10" fill="#000" stroke="#000" text-anchor="end" >5.5</text><text x="35.3" y="66.21" font-size="10" fill="#000" stroke="#000" text-anchor="end" >6.0</text><text x="35.3" y="50.58999999999999" font-size="10" fill="#000" stroke="#000" text-anchor="end" >6.5</text><text x="551" y="253.64999999999998" font-size="10" fill="#000" stroke="#000" text-anchor="start" >0</text><text x="551" y="238.02999999999997" font-size="10" fill="#000" stroke="#000" text-anchor="start" >10</text><text x="551" y="222.40999999999997" font-size="10" fill="#000" stroke="#000" text-anchor="start" >20</text><text x="551" y="206.78999999999996" font-size="10" fill="#000" stroke="#000" text-anchor="start" >30</text><text x="551" y="191.17" font-size="10" fill="#000" stroke="#000" text-anchor="start" >40</text><text x="551" y="175.54999999999998" font-size="10" fill="#000" stroke="#000" text-anchor="start" >50</text><text x="551" y="159.92999999999998" font-size="10" fill="#000" stroke="#000" text-anchor="start" >60</text><text x="551" y="144.31" font-size="10" fill="#000" stroke="#000" text-anchor="start" >70</text><text x="551" y="128.69" font-size="10" fill="#000" stroke="#000" text-anchor="start" >80</text><text x="551" y="113.07000000000001" font-size="10" fill="#000" stroke="#000" text-anchor="start" >90</text><text x="551" y="97.45" font-size="10" fill="#000" stroke="#000" text-anchor="start" >100</text><text x="43.5" y="262.5" font-size="10" fill="#000" stroke="#000" text-anchor="middle" >0</text><text x="106.51" y="262.5" font-size="10" fill="#000" stroke="#000" text-anchor="middle" >50</text><text x="169.73" y="262.5" font-size="10" fill="#000" stroke="#000" text-anchor="middle" >100</text><text x="232.94" y="262.5" font-size="10" fill="#000" stroke="#000" text-anchor="middle" >150</text><text x="296.16" y="262.5" font-size="10" fill="#000" stroke="#000" text-anchor="middle" >200</text><text x="359.38" y="262.5" font-size="10" fill="#000" stroke="#000" text-anchor="middle" >250</text><text x="422.59" y="262.5" font-size="10" fill="#000" stroke="#000" text-anchor="middle" >300</text><text x="485.81" y="262.5" font-size="10" fill="#000" stroke="#000" text-anchor="middle" >350</text><text x="504" y="262.5" font-size="10" fill="#000" stroke="#000" text-anchor="start" >Q [м³/ч]</text><text x="68" y="84" font-size="10" fill="#000" stroke="#000" text-anchor="start" >110 %</text><text x="133" y="84" font-size="10" fill="#000" stroke="#000" text-anchor="start" >100 %</text><text x="61" y="240" font-size="10" fill="#000" stroke="#000" text-anchor="start" >20 %</text><text x="21" y="276.8" font-size="10" fill="#000" stroke="#000" text-anchor="middle" >P</text><text x="20.5" y="289" font-size="10" fill="#000" stroke="#000" text-anchor="middle" >[кВт]</text><text x="571.5" y="276" font-size="10" fill="#000" stroke="#000" text-anchor="middle" >NPSH</text><text x="571" y="289" font-size="10" fill="#000" stroke="#000" text-anchor="middle" >[м]</text><text x="35.3" y="395.2" font-size="10" fill="#000" stroke="#000" text-anchor="end" >0</text><text x="35.3" y="354.2" font-size="10" fill="#000" stroke="#000" text-anchor="end" >2</text><text x="35.3" y="313.2" font-size="10" fill="#000" stroke="#000" text-anchor="end" >4</text><text x="551" y="395.2" font-size="10" fill="#000" stroke="#000" text-anchor="start" >0</text><text x="551" y="354.2" font-size="10" fill="#000" stroke="#000" text-anchor="start" >20</text><text x="551" y="313.2" font-size="10" fill="#000" stroke="#000" text-anchor="start" >40</text><text x="353.5" y="298" font-size="10" fill="#0d4a8a" stroke="#0d4a8a" text-anchor="start" >P1 (двиг.+преобр-ль частоты)</text><text x="484.5" y="320" font-size="10" fill="#0d4a8a" stroke="#0d4a8a" text-anchor="start" >P2</text></g></svg>
</body></html>
